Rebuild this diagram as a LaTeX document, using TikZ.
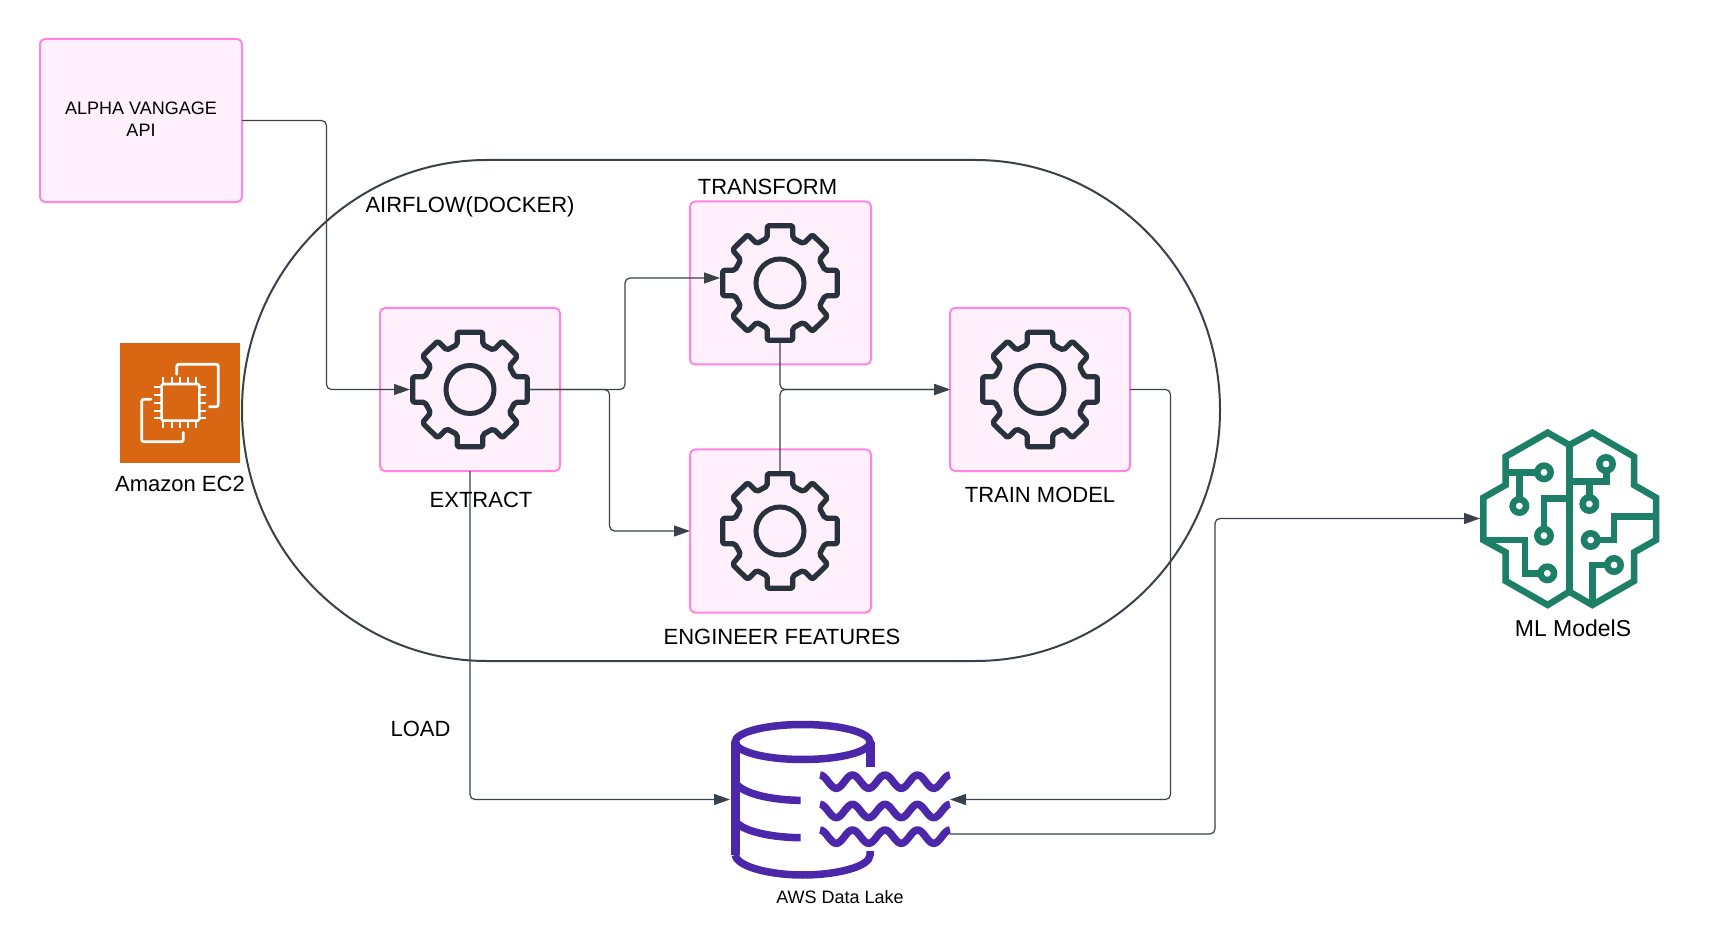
\documentclass[tikz,border=0pt]{standalone}
\usepackage{fontspec}
\setmainfont{Liberation Sans}
\usetikzlibrary{arrows.meta}
\definecolor{pinkfill}{HTML}{FFF0FB}
\definecolor{pinkline}{HTML}{FF85E0}
\definecolor{slateline}{HTML}{3A414A}
\definecolor{geardark}{HTML}{28323F}
\definecolor{ecorange}{HTML}{D86613}
\definecolor{lakepurple}{HTML}{4D27AA}
\definecolor{braingreen}{HTML}{1D7F68}
\tikzset{
  pinkbox/.style={draw=pinkline,fill=pinkfill,line width=2pt,rounded corners=5pt,inner sep=0pt,outer sep=0pt,minimum width=180pt,minimum height=163pt},
  anchorbox/.style={inner sep=0pt,outer sep=0pt,minimum width=#1},
  conn/.style={draw=slateline,line width=1.2pt,rounded corners=5pt},
  arr/.style={-{Triangle[length=16pt,width=11pt]}},
  lab/.style={inner sep=0pt,font=\fontsize{22}{26}\selectfont,text=black},
  smalllab/.style={inner sep=0pt,font=\fontsize{18}{21.5}\selectfont,text=black,align=center},
  gearicon/.pic={
    \draw[geardark,line width=5.3pt,rounded corners=2pt,line join=round]
      (-12.7,-57.3)--(12.7,-57.3)--(12.7,-45)--(23.3,-39.3)--(32.3,-48.3)--(47.7,-33.3)--(39.3,-23.3)--(45,-12.7)--(57.3,-12.7)--(57.3,12.7)--(45,12.7)--(39.3,23.3)--(47.7,33.3)--(32.3,48.3)--(23.3,39.3)--(12.7,45)--(12.7,57.3)--(-12.7,57.3)--(-12.7,45)--(-23.3,39.3)--(-32.3,48.3)--(-47.7,33.3)--(-39.3,23.3)--(-45,12.7)--(-57.3,12.7)--(-57.3,-12.7)--(-45,-12.7)--(-39.3,-23.3)--(-47.7,-33.3)--(-32.3,-48.3)--(-23.3,-39.3)--(-12.7,-45)--cycle;
    \draw[geardark,line width=5pt] (0,0) circle[radius=24pt];
  },
  zoomcoords/.style={x=0.33333pt,y=-0.33333pt}
}
\begin{document}
\begin{tikzpicture}[x=1pt,y=-1pt]
\useasboundingbox (0,0) rectangle (1730,949);
\fill[white] (0,0) rectangle (1730,949);

% container
\draw[slateline,line width=2pt]
  (487,160) -- (975,160)
  .. controls (1110,160) and (1220,272) .. (1220,410)
  .. controls (1220,549) and (1110,661) .. (975,661)
  -- (487,661)
  .. controls (352,661) and (242,549) .. (242,410)
  .. controls (242,272) and (352,160) .. (487,160) -- cycle;

% boxes
\node[pinkbox,minimum width=202pt] (alpha) at (141,120.5) {};
\node[pinkbox] (ex) at (470,389.5) {};
\node[pinkbox,minimum width=181pt] (tf) at (780.5,283) {};
\node[pinkbox,minimum width=181pt] (en) at (780.5,531) {};
\node[pinkbox] (tr) at (1040,389.5) {};

% gears
\node[anchorbox=120pt,minimum height=120pt] (gE) at (470,389.5) {};
\node[anchorbox=120pt,minimum height=120pt] (gT) at (780,283) {};
\node[anchorbox=120pt,minimum height=120pt] (gN) at (780,531) {};
\node[anchorbox=120pt,minimum height=120pt] (gR) at (1040,389.5) {};
\pic at (gE) {gearicon};
\pic at (gT) {gearicon};
\pic at (gN) {gearicon};
\pic at (gR) {gearicon};

% EC2 icon
\node[fill=ecorange,inner sep=0pt,minimum size=120pt] (ec2) at (180,403) {};
\begin{scope}[shift={(100,320)},zoomcoords]
  \draw[white,line width=2.6pt,line join=round,rounded corners=1.5pt] (185,192) rectangle (298,302);
  \foreach \p in {190,215,240,265,288}{
    \draw[white,line width=2.3pt] (\p,172) -- (\p,192);
    \draw[white,line width=2.3pt] (\p,302) -- (\p,324);
  }
  \foreach \p in {200,225,248,272,295}{
    \draw[white,line width=2.3pt] (163,\p) -- (185,\p);
    \draw[white,line width=2.3pt] (298,\p) -- (318,\p);
  }
  \draw[white,line width=2.7pt,rounded corners=2pt,line cap=round] (230,163) -- (230,133) -- (355,133) -- (355,260) -- (328,260);
  \draw[white,line width=2.7pt,rounded corners=2pt,line cap=round] (153,238) -- (125,238) -- (125,365) -- (250,365) -- (250,337);
\end{scope}

% data lake icon
\node[anchorbox=220pt,minimum height=160pt] (lake) at (840,799.5) {};
\begin{scope}[shift={(640,680)},zoomcoords]
  \draw[lakepurple,line width=7.5pt] (488,186) circle[x radius=67.5pt,y radius=17.5pt];
  \draw[lakepurple,line width=9pt] (286,186) -- (286,525);
  \draw[lakepurple,line width=9pt] (690,186) -- (690,262);
  \draw[lakepurple,line width=7.5pt] (286,525) .. controls (290,560) and (390,585) .. (488,585) .. controls (590,585) and (690,560) .. (690,525) -- (690,513);
  \draw[lakepurple,line width=7.5pt] (286,308) .. controls (310,345) and (410,361) .. (482,361);
  \draw[lakepurple,line width=7.5pt] (286,423) .. controls (310,458) and (410,473) .. (482,473);
  \foreach \wy in {305,393,470}{
    \draw[lakepurple,line width=7.5pt,line join=round] plot[domain=0:4,samples=81,smooth] ({540+\x*97.5},{\wy-20*cos(360*\x)});
  }
\end{scope}

% brain icon
\node[anchorbox=179pt,minimum height=179pt] (brain) at (1569.5,518.5) {};
\begin{scope}[shift={(1470,420)},zoomcoords,braingreen,line width=6.5pt,line join=miter]
  \draw (233,38) -- (298,75) -- (367,38) -- (492,110) -- (492,195) -- (558,233) -- (558,360) -- (492,397) -- (492,483) -- (367,555) -- (298,515) -- (233,555) -- (107,483) -- (107,397) -- (40,360) -- (40,233) -- (107,195) -- (107,110) -- cycle;
  \draw (298,75) -- (298,515);
  \draw (107,157) -- (200,157);
  \draw (222,157) circle[radius=6.7pt];
  \draw (148,157) -- (148,235);
  \draw (148,258) circle[radius=6.7pt];
  \draw (298,235) -- (222,235) -- (222,325);
  \draw (222,347) circle[radius=6.7pt];
  \draw (40,360) -- (165,360) -- (165,460) -- (210,460);
  \draw (232,460) circle[radius=6.7pt];
  \draw (298,185) -- (410,185) -- (410,150);
  \draw (408,132) circle[radius=6.7pt];
  \draw (358,185) -- (358,230);
  \draw (358,252) circle[radius=6.7pt];
  \draw (558,290) -- (432,290) -- (432,360) -- (385,360);
  \draw (362,360) circle[radius=6.7pt];
  \draw (367,555) -- (367,435) -- (410,435);
  \draw (432,435) circle[radius=6.7pt];
\end{scope}

% routing helpers
\coordinate (c1) at (326.5,300);
\coordinate (c2) at (625,300);
\coordinate (c3) at (609.5,450);
\coordinate (c4) at (1170.5,600);
\coordinate (c5) at (1215,600);
\coordinate (tIn) at (720,278);
\coordinate (lakeOut) at (950,834);

% connectors
\draw[conn,arr] (alpha.east) -| (c1) |- (gE.west);
\draw[conn,arr] (gE.east) -| (c2) |- (tIn);
\draw[conn,arr] (gE.east) -| (c3) |- (en.west);
\draw[conn,arr] (gT.south) |- (tr.west);
\draw[conn,arr] (gN.north) |- (tr.west);
\draw[conn,arr] (tr.east) -| (c4) |- (lake.east);
\draw[conn,arr] (ex.south) |- (lake.west);
\draw[conn,arr] (lakeOut) -| (c5) |- (brain.west);

% labels
\node[smalllab] (alphaText) at (141,119) {ALPHA VANGAGE\\API};
\node[lab] (airflow) at (470,207) {AIRFLOW(DOCKER)};
\node[lab] (transform) at (767.5,187) {TRANSFORM};
\node[lab] (extract) at (481,500) {EXTRACT};
\node[lab] (trainlab) at (1040,495) {TRAIN MODEL};
\node[lab] (engineer) at (782,637) {ENGINEER FEATURES};
\node[lab] (load) at (420.5,729) {LOAD};
\node[lab] (ec2lab) at (180,484) {Amazon EC2};
\node[smalllab] (lakelab) at (840,897) {AWS Data Lake};
\node[lab,font=\fontsize{23}{27}\selectfont] (mllab) at (1573,628) {ML ModelS};
\end{tikzpicture}
\end{document}
